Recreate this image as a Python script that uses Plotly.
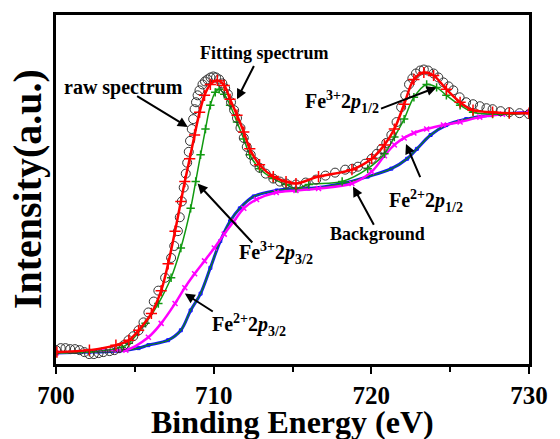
import plotly.graph_objects as go

# ---------------- data ----------------
raw_E = [700.0, 700.3, 700.6, 700.9, 701.2, 701.5, 701.8, 702.1, 702.4, 702.7, 703.0, 703.4,
         703.7, 704.0, 704.3, 704.6, 704.9, 705.24, 705.55, 705.86, 706.2, 706.49, 706.92,
         707.3, 707.5, 707.73, 707.85, 707.98, 708.1, 708.23, 708.32, 708.42, 708.5, 708.61,
         708.7, 708.79, 708.88, 708.98, 709.1, 709.29, 709.45, 709.61, 709.8, 709.98, 710.15,
         710.35, 710.55, 710.73, 710.9, 711.1, 711.3, 711.48, 711.7, 711.91, 712.1, 712.35,
         712.6, 712.91, 713.3, 713.78, 714.2, 714.59, 715.22, 715.84, 716.5, 717.09, 717.7,
         718.34, 718.8, 719.15, 719.6, 720.02, 720.35, 720.65, 720.95, 721.27, 721.6, 721.89,
         722.15, 722.39, 722.6, 722.83, 723.1, 723.33, 723.6, 723.95, 724.25, 724.57, 724.9,
         725.2, 725.6, 726.01, 726.45, 726.88, 727.3, 727.69, 728.2, 728.75, 729.4, 730.0]
raw_I = [14, 16, 16, 15, 15, 14, 12, 10, 10, 11, 12, 13,
         14, 16, 19, 24, 28, 34, 42, 52, 63, 74, 87,
         107, 119, 134, 148, 164, 178, 192, 203, 214, 225, 237,
         247, 257, 264, 271, 276, 282, 285, 287, 289, 290, 289,
         287, 283, 278, 272, 264, 256, 248, 238, 228, 219, 211,
         204, 198, 192, 187, 184, 182, 181, 183, 186, 190, 193,
         196, 197, 199, 202, 207, 212, 217, 223, 231, 244, 259,
         271, 282, 288, 293, 296, 297, 296, 293, 289, 284, 280,
         276, 269, 264, 262, 260, 258, 257, 255, 254, 253, 252]

fit_E = [700.06, 702.12, 703.8, 704.62, 705.24, 706.05, 706.67, 707.11, 707.55, 707.92,
         708.17, 708.48, 708.79, 709.11, 709.42, 709.79, 710.23, 710.67, 711.04, 711.48,
         711.91, 712.29, 712.91, 713.78, 714.59, 715.22, 716.65, 718.77, 720.02, 720.83,
         721.46, 722.08, 722.7, 723.33, 723.95, 724.76, 725.63, 726.45, 727.69, 728.75, 730.0]
fit_I = [12, 14, 19, 24, 34, 51, 74, 101, 134, 164,
         184, 207, 231, 254, 271, 282, 286, 281, 267, 251,
         234, 217, 201, 189, 184, 182, 189, 196, 207, 221,
         237, 262, 287, 294, 291, 277, 264, 256, 254, 253, 253]

fe3_E = [700.0, 702.12, 704.18, 704.62, 705.68, 706.49, 707.3, 707.92, 708.54, 708.86,
         709.17, 709.48, 709.79, 710.1, 710.35, 710.67, 711.04, 711.48, 711.91, 712.29,
         712.91, 713.78, 714.59, 715.22, 716.03, 718.15, 719.77, 720.83, 721.46, 722.08,
         722.7, 723.51, 724.14, 724.76, 725.63, 726.45, 727.69, 728.75, 730.0]
fe3_I = [11, 12, 17, 21, 41, 61, 87, 117, 157, 184,
         211, 237, 261, 274, 277, 272, 261, 244, 227, 211,
         197, 187, 181, 177, 181, 184, 197, 212, 229, 247,
         269, 282, 279, 271, 261, 254, 252, 252, 253]

fe2_E = [700.0, 703.8, 704.43, 705.86, 706.67, 707.55, 708.17, 708.79, 709.42, 710.04,
         710.67, 711.29, 711.91, 712.72, 713.97, 715.22, 716.65, 718.77, 720.02, 720.83,
         721.46, 722.08, 722.7, 723.51, 724.57, 725.63, 726.88, 728.32, 730.0]
fe2_I = [11, 14, 14, 27, 41, 61, 77, 91, 104, 117,
         131, 144, 157, 166, 173, 175, 177, 182, 194, 210,
         221, 228, 233, 237, 241, 244, 249, 252, 254]

bg_E = [700.0, 702.12, 704.0, 705.24, 705.86, 707.11, 707.92, 708.54, 709.17, 709.79,
        710.42, 711.04, 711.66, 712.54, 714.0, 715.22, 716.03, 718.15, 719.77, 721.27,
        722.27, 722.89, 723.76, 724.76, 726.01, 727.51, 730.0]
bg_I = [11, 12, 13, 16, 19, 24, 34, 54, 71, 97,
        124, 144, 157, 169, 175, 177, 177, 182, 189, 197,
        207, 217, 231, 241, 247, 251, 254]

x_ticks = [700, 710, 720, 730]

FONT = "Liberation Serif"

fig = go.Figure()

# background: blue outline with dark green core
fig.add_trace(go.Scatter(x=bg_E, y=bg_I, mode="lines+markers", line=dict(color="#1010ff", width=3, shape="spline"),
                         marker=dict(symbol="square-open", size=3, color="#1010ff"), showlegend=False))
fig.add_trace(go.Scatter(x=bg_E, y=bg_I, mode="lines", line=dict(color="#108a10", width=1.2, shape="spline"),
                         showlegend=False))
# Fe2+ component + background
fig.add_trace(go.Scatter(x=fe2_E, y=fe2_I, mode="lines+markers", line=dict(color="#ff00ff", width=2.5, shape="spline"),
                         marker=dict(symbol="x-thin", size=5, line=dict(color="#ff00ff", width=1.5)), showlegend=False))
# Fe3+ component + background
fig.add_trace(go.Scatter(x=fe3_E, y=fe3_I, mode="lines+markers", line=dict(color="#119a11", width=1.5, shape="spline"),
                         marker=dict(symbol="cross-thin", size=6, line=dict(color="#119a11", width=1.5)), showlegend=False))
# raw spectrum
fig.add_trace(go.Scatter(x=raw_E, y=raw_I, mode="markers",
                         marker=dict(symbol="circle-open", size=9, color="#333333", line=dict(width=1)), showlegend=False))
# fitting spectrum
fig.add_trace(go.Scatter(x=fit_E, y=fit_I, mode="lines+markers", line=dict(color="#ff0000", width=2.5, shape="spline"),
                         marker=dict(symbol="cross-thin", size=8, line=dict(color="#ff0000", width=1.5)), showlegend=False))

def lab_font(size):
    return dict(family=FONT, size=size, color="black", weight="bold")

labels = [
    ("raw spectrum", 704.3, 279, "center", 20),
    ("Fitting spectrum", 713.22, 314, "center", 18),
    ("Fe<sup>3+</sup>2<i>p</i><sub>1/2</sub>", 715.66, 264, "left", 20),
    ("Fe<sup>2+</sup>2<i>p</i><sub>1/2</sub>", 721.02, 164, "left", 20),
    ("Background", 720.4, 131, "center", 18),
    ("Fe<sup>3+</sup>2<i>p</i><sub>3/2</sub>", 711.48, 112, "left", 20),
    ("Fe<sup>2+</sup>2<i>p</i><sub>3/2</sub>", 709.79, 39, "left", 20),
]
annotations = []
for t, x, y, xa, sz in labels:
    annotations.append(dict(text=t, x=x, y=y, xref="x", yref="y", xanchor=xa, yanchor="middle",
                            showarrow=False, font=lab_font(sz)))

arrows = [
    (705.05, 271, 708.36, 239),
    (712.60, 302, 711.48, 267),
    (720.52, 257, 724.14, 279),
    (723.14, 187, 722.20, 222),
    (720.21, 139, 718.84, 179),
    (712.54, 121, 708.98, 182),
    (710.04, 52, 708.17, 71),
]
for ax, ay, x, y in arrows:
    annotations.append(dict(text="", x=x, y=y, ax=ax, ay=ay, xref="x", yref="y", axref="x", ayref="y",
                            showarrow=True, arrowhead=2, arrowsize=1, arrowwidth=2, arrowcolor="black", standoff=0))

annotations.append(dict(text="Binding Energy (eV)", x=0.5, y=-0.165, xref="paper", yref="paper",
                        xanchor="center", yanchor="middle", showarrow=False,
                        font=dict(family=FONT, size=32, color="black", weight="bold")))
annotations.append(dict(text="Intensity(a.u.)", x=-0.060, y=0.5, xref="paper", yref="paper",
                        xanchor="center", yanchor="middle", textangle=-90, showarrow=False,
                        font=dict(family=FONT, size=40, color="black", weight="bold")))

fig.update_layout(
    width=560, height=439,
    margin=dict(l=56, r=23, t=12, b=75),
    paper_bgcolor="white", plot_bgcolor="white",
    annotations=annotations,
    xaxis=dict(range=[700, 730], tickvals=x_ticks, ticktext=[str(v) for v in x_ticks],
               showline=True, linecolor="black", linewidth=2.5, mirror=True,
               ticks="outside", ticklen=7, tickwidth=2, tickcolor="black", ticklabelstandoff=0,
               minor=dict(dtick=5, tick0=700, ticks="outside", ticklen=5, tickwidth=2, tickcolor="black"),
               tickfont=dict(family=FONT, size=25, color="black", weight="bold"),
               showgrid=False, zeroline=False),
    yaxis=dict(range=[0, 352], showticklabels=False, ticks="", showline=True, linecolor="black",
               linewidth=2.5, mirror=True, showgrid=False, zeroline=False),
)

# remove the default page margin so the 560x439 figure fills the window exactly
fig.write_html("out.html", config={"displayModeBar": False},
               post_script="document.body.style.margin='0';document.body.style.overflow='hidden';")
